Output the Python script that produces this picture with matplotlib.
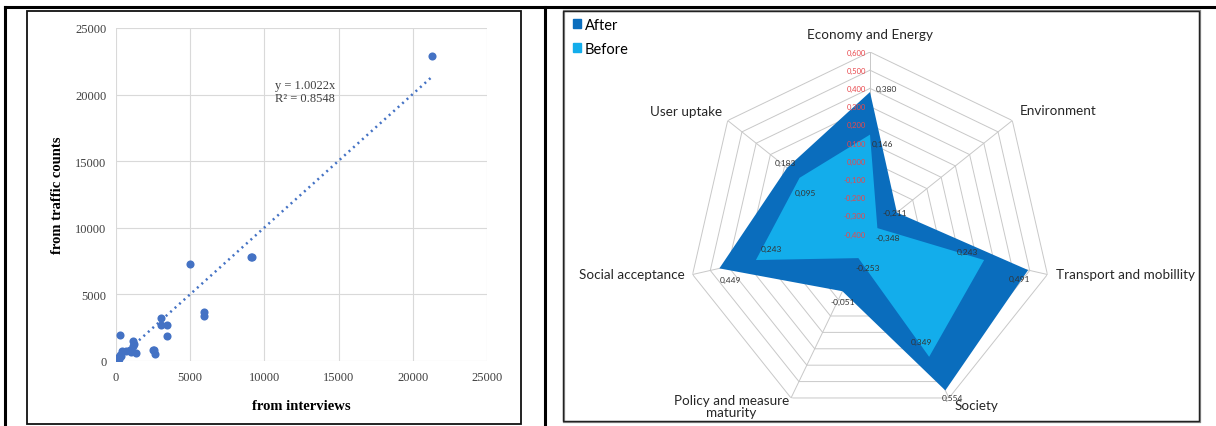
"""scatter of counts vs interviews and radar of before/after scores"""

import numpy as np
import matplotlib.pyplot as plt
from matplotlib.lines import Line2D
from matplotlib.patches import Rectangle, Patch

# left panel: trips from interviews vs from traffic counts
interview_x = [21300, 9100, 9150, 5000, 5900, 5900, 3000, 3000, 3450, 3450,
               250, 1150, 1150, 1350, 950, 700, 380, 270, 100, 50,
               170, 310, 2500, 2600, 2550, 1200, 1000]
counts_y = [22900, 7780, 7800, 7280, 3700, 3400, 3250, 2700, 2700, 1900,
            1970, 1530, 1150, 580, 830, 760, 770, 450, 250, 100,
            180, 380, 850, 520, 800, 1300, 700]
slope = 1.0022
r_squared = 0.8548
scatter_ticks = [0, 5000, 10000, 15000, 20000, 25000]

# right panel: radar scores
categories = ['Economy and Energy', 'Environment', 'Transport and mobillity',
              'Society', 'Policy and measure\nmaturity', 'Social acceptance',
              'User uptake']
after = [0.380, -0.211, 0.491, 0.554, -0.051, 0.449, 0.183]
before = [0.146, -0.348, 0.243, 0.349, -0.253, 0.243, 0.095]
radar_ticks = [-0.4, -0.3, -0.2, -0.1, 0.0, 0.1, 0.2, 0.3, 0.4, 0.5, 0.6]

W, H = 1216, 427
fig = plt.figure(figsize=(W / 100, H / 100), dpi=100)


def box(x0, y0, x1, y1):
    """pixel box (top-left origin) -> figure fraction rect"""
    return [x0 / W, 1 - y1 / H, (x1 - x0) / W, (y1 - y0) / H]


# table lines
for xs, ys in [([5, W], [8, 8]), ([5, 5], [8, H]), ([545, 545], [8, H])]:
    fig.add_artist(Line2D([x / W for x in xs], [1 - y / H for y in ys],
                          transform=fig.transFigure, color='k', lw=2.2))
# inner frames
fig.add_artist(Rectangle((27 / W, 1 - 425 / H), (521 - 27) / W, (425 - 12) / H,
                         transform=fig.transFigure, fill=False, ec='#111111', lw=1.3))
fig.add_artist(Rectangle((564 / W, 1 - 423 / H), (1200 - 564) / W, (423 - 12) / H,
                         transform=fig.transFigure, fill=False, ec='#888888', lw=1.6))
fig.add_artist(Rectangle((563 / W, 1 - 422 / H), (1199 - 563) / W, (422 - 12) / H,
                         transform=fig.transFigure, fill=False, ec='#222222', lw=1.0))

# ---------- scatter ----------
ax = fig.add_axes(box(116, 29, 487, 362))
ax.scatter(interview_x, counts_y, s=34, color='#4472C4', zorder=3, lw=0)
tx = np.array([min(interview_x), max(interview_x)])
ax.plot(tx, slope * tx, color='#4472C4', lw=1.8, ls=(0, (0.8, 1.6)), zorder=2)
ax.text(10700, 20200, 'y = %.4fx\nR² = %.4f' % (slope, r_squared),
        family='Liberation Serif', fontsize=9, color='#404040',
        va='center', ha='left', linespacing=1.1)
ax.set_xlim(0, 25000)
ax.set_ylim(0, 25000)
ax.set_xticks(scatter_ticks)
ax.set_yticks(scatter_ticks)
ax.grid(True, color='#D9D9D9', lw=0.8)
ax.set_axisbelow(True)
for s in ax.spines.values():
    s.set_visible(False)
ax.tick_params(length=0, labelsize=9, labelcolor='#404040', pad=7)
for lab in ax.get_xticklabels() + ax.get_yticklabels():
    lab.set_family('Liberation Serif')
ax.set_xlabel('from interviews', family='Liberation Serif', fontweight='bold',
              fontsize=10.5, labelpad=12)
ax.set_ylabel('from traffic counts', family='Liberation Serif', fontweight='bold',
              fontsize=10.5, labelpad=8)

# ---------- radar ----------
cx, cy, R = 870, 235, 182
rax = fig.add_axes(box(cx - R, cy - R, cx + R, cy + R), projection='polar')
rax.set_theta_zero_location('N')
rax.set_theta_direction(-1)
rax.set_ylim(radar_ticks[0], radar_ticks[-1])
rax.grid(False)
rax.spines['polar'].set_visible(False)
rax.set_xticks([])
rax.set_yticks([])
rax.patch.set_alpha(0)

n = len(categories)
theta = np.arange(n) * 2 * np.pi / n
closed = np.append(theta, theta[0])
for r in radar_ticks[1:]:
    rax.plot(closed, [r] * (n + 1), color='#C8C8C8', lw=0.7, zorder=1)
for t in theta:
    rax.plot([t, t], [radar_ticks[0], radar_ticks[-1]], color='#C8C8C8', lw=0.7, zorder=1)

c_after, c_before = '#0A6DBD', '#13ADEB'
rax.fill(closed, np.append(after, after[0]), color=c_after, lw=0, zorder=2)
rax.fill(closed, np.append(before, before[0]), color=c_before, lw=0, zorder=3)

font = 'Lato'
for r in radar_ticks:
    rax.annotate(('%.3f' % r).replace('.', ','), (0, r), xytext=(-4, 0),
                 textcoords='offset pixels', ha='right', va='center',
                 fontsize=5.5, color='#E8474C', family=font, zorder=5)

# category label placement (offset pixels, ha, va)
cat_pos = [((0, 12), 'center', 'bottom'), ((7, 5), 'left', 'bottom'),
           ((9, 0), 'left', 'center'), ((6, -1), 'left', 'top'),
           ((-2, -8), 'right', 'center'), ((-8, 0), 'right', 'center'),
           ((-6, 4), 'right', 'bottom')]
for t, name, (off, ha, va) in zip(theta, categories, cat_pos):
    rax.annotate(name, (t, radar_ticks[-1]), xytext=off, textcoords='offset pixels',
                 ha=ha, va=va, fontsize=9.7, color='#262626', family=font,
                 linespacing=1.05, multialignment='center', annotation_clip=False)

after_off = [((6, 4), 'left'), ((-2, 0), 'center'), ((2, -8), 'right'),
             ((-4, -7), 'left'), ((0, -10), 'center'), ((0, -11), 'left'),
             ((-2, 5), 'center')]
before_off = [((2, -9), 'left'), ((-2, -9), 'left'), ((-6, 9), 'right'),
              ((3, 15), 'right'), ((9, -9), 'center'), ((16, 12), 'center'),
              ((6, -15), 'center')]
for vals, offs in [(after, after_off), (before, before_off)]:
    for t, v, (off, ha) in zip(theta, vals, offs):
        rax.annotate(('%.3f' % v).replace('.', ','), (t, v), xytext=off,
                     textcoords='offset pixels', ha=ha, va='center',
                     fontsize=6, color='#333333', family=font, zorder=6)

fig.legend(handles=[Patch(color=c_after), Patch(color=c_before)],
           labels=['After', 'Before'], loc='upper left',
           bbox_to_anchor=(567 / W, 1 - 13 / H), frameon=False,
           handlelength=0.55, handleheight=0.55, handletextpad=0.25,
           labelspacing=0.7, borderaxespad=0,
           prop={'family': font, 'size': 10.5})

fig.savefig('out.png', dpi=100)
